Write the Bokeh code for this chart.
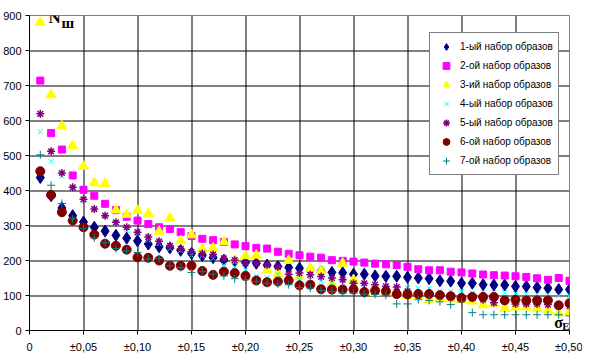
from bokeh.plotting import figure
from bokeh.models import Range1d, FixedTicker, Legend, LegendItem, Label
from bokeh.embed import file_html
from bokeh.resources import INLINE

# ---- data ----
x_vals = [0.01, 0.02, 0.03, 0.04, 0.05, 0.06, 0.07, 0.08, 0.09, 0.10,
          0.11, 0.12, 0.13, 0.14, 0.15, 0.16, 0.17, 0.18, 0.19, 0.20,
          0.21, 0.22, 0.23, 0.24, 0.25, 0.26, 0.27, 0.28, 0.29, 0.30,
          0.31, 0.32, 0.33, 0.34, 0.35, 0.36, 0.37, 0.38, 0.39, 0.40,
          0.41, 0.42, 0.43, 0.44, 0.45, 0.46, 0.47, 0.48, 0.49, 0.50]

set1 = [437, 385, 350, 328, 310, 295, 284, 272, 264, 256,
        247, 239, 236, 229, 220, 214, 208, 201, 198, 195,
        192, 187, 183, 180, 178, 173, 170, 166, 165, 161,
        161, 156, 155, 155, 152, 150, 148, 142, 141, 135,
        135, 131, 130, 130, 126, 126, 123, 121, 117, 117]
set2 = [714, 564, 517, 443, 402, 385, 362, 344, 325, 314,
        304, 295, 290, 281, 270, 262, 258, 253, 246, 241,
        236, 234, 225, 219, 215, 211, 208, 201, 199, 197,
        194, 191, 189, 187, 182, 175, 172, 172, 168, 166,
        163, 160, 158, 157, 155, 153, 149, 145, 150, 142]
set3 = [880, 673, 584, 528, 469, 422, 420, 344, 331, 343,
        333, 283, 321, 256, 273, 233, 235, 253, 201, 213,
        215, 173, 163, 200, 154, 177, 171, 133, 192, 145,
        112, 108, 110, 105, 100, 99, 88, 93, 90, 88,
        84, 73, 76, 63, 67, 67, 63, 58, 50, 52]
set4 = [568, 483, 440, 408, 372, 347, 328, 305, 286, 277,
        258, 248, 234, 229, 215, 214, 206, 187, 182, 173,
        154, 150, 161, 145, 145, 145, 140, 135, 135, 131,
        126, 126, 121, 121, 121, 121, 121, 112, 112, 112,
        108, 110, 108, 108, 106, 103, 103, 103, 100, 100]
set5 = [619, 512, 450, 409, 375, 347, 328, 309, 295, 281,
        267, 255, 242, 233, 225, 220, 217, 206, 201, 192,
        192, 187, 182, 161, 164, 159, 154, 150, 145, 135,
        135, 131, 126, 124, 112, 107, 107, 103, 98, 93,
        93, 88, 79, 84, 76, 76, 76, 74, 70, 70]
set6 = [455, 387, 338, 314, 295, 274, 248, 242, 231, 209,
        208, 200, 185, 185, 185, 170, 159, 168, 164, 156,
        143, 138, 140, 143, 129, 131, 118, 117, 117, 117,
        110, 114, 112, 104, 103, 104, 104, 101, 98, 93,
        96, 96, 96, 86, 88, 86, 86, 86, 72, 78]
set7 = [502, 415, 363, 319, 291, 265, 251, 234, 227, 223,
        204, 206, 185, 180, 166, 168, 161, 156, 148, 145,
        140, 135, 133, 131, 123, 121, 114, 112, 107, 107,
        104, 103, 101, 76, 76, 88, 86, 82, 74, 82,
        51, 45, 45, 45, 45, 45, 45, 45, 45, 42]

series_names = ["1-ый набор образов", "2-ой набор образов", "3-ий набор образов",
                "4-ый набор образов", "5-ый набор образов", "6-ой набор образов",
                "7-ой набор образов"]

x_ticks = [0, 0.05, 0.1, 0.15, 0.2, 0.25, 0.3, 0.35, 0.4, 0.45, 0.5]
x_tick_labels = ["0", "±0,05", "±0,10", "±0,15", "±0,20", "±0,25",
                 "±0,30", "±0,35", "±0,40", "±0,45", "±0,50"]
y_ticks = [0, 100, 200, 300, 400, 500, 600, 700, 800, 900]

# ---- figure ----
FW, FH = 540, 315          # frame size in px
X0, X1, Y0, Y1 = 0, 0.5, 0, 900

p = figure(width=580, height=355, output_backend="svg", toolbar_location=None,
           frame_width=FW, frame_height=FH,
           x_range=Range1d(X0, X1), y_range=Range1d(Y0, Y1),
           min_border_left=27, min_border_right=13, min_border_top=15,
           min_border_bottom=25, background_fill_color="white",
           border_fill_color="white")
p.outline_line_color = "#808080"
p.outline_line_width = 1
p.grid.visible = False

FONT = "Liberation Sans"
for ax in (p.xaxis[0], p.yaxis[0]):
    ax.axis_line_color = "black"
    ax.major_tick_line_color = "black"
    ax.major_tick_out = 4
    ax.major_tick_in = 0
    ax.minor_tick_out = 0
    ax.minor_tick_in = 0
    ax.major_label_text_font = FONT
    ax.major_label_text_font_size = "11px"
    ax.major_label_text_color = "black"
    ax.major_label_standoff = 4
p.xaxis.major_label_standoff = 6

p.xaxis.ticker = FixedTicker(ticks=x_ticks)
p.xaxis.major_label_overrides = {t: l for t, l in zip(x_ticks, x_tick_labels)}
p.yaxis.ticker = FixedTicker(ticks=y_ticks)

# grid lines (black, 1px) drawn as segments nudged half a pixel for crispness
hx = 0.5 * (X1 - X0) / FW
hy = 0.5 * (Y1 - Y0) / FH
gx = [t + hx for t in x_ticks[1:-1]]
gy = [t - hy for t in y_ticks[1:-1]]
p.segment(x0=gx, x1=gx, y0=[Y0] * len(gx), y1=[Y1] * len(gx),
          line_color="black", line_width=1, level="underlay")
p.segment(x0=[X0] * len(gy), x1=[X1] * len(gy), y0=gy, y1=gy,
          line_color="black", line_width=1, level="underlay")

# ---- series ----
r1 = p.scatter(x_vals, set1, marker="diamond", size=12, fill_color="#000080", line_color="#000080")
r2 = p.scatter(x_vals, set2, marker="square", size=7, fill_color="#FF00FF", line_color="#FF00FF")
r3 = p.scatter(x_vals, set3, marker="triangle", size=10, fill_color="#FFFF00", line_color="#FFFF00")
r4 = p.scatter(x_vals, set4, marker="x", size=7, line_color="#00FFFF", line_width=1)
r5 = p.scatter(x_vals, set5, marker="asterisk", size=8, line_color="#800080", line_width=1.5)
r6 = p.scatter(x_vals, set6, marker="circle", size=9, fill_color="#800000", line_color="#800000")
r7 = p.scatter(x_vals, set7, marker="cross", size=8, line_color="#008080", line_width=1)

renderers = [r1, r2, r3, r4, r5, r6, r7]
items = [LegendItem(label=n, renderers=[r]) for n, r in zip(series_names, renderers)]
legend = Legend(items=items, location=(400, 155),
                label_text_font=FONT, label_text_font_size="10px",
                label_text_color="black",
                border_line_color="black", border_line_width=1,
                background_fill_color="white", background_fill_alpha=1,
                padding=5, spacing=2, glyph_width=22, glyph_height=17,
                label_height=17, label_standoff=3, margin=0)
p.add_layout(legend)

# ---- axis titles inside the plot ----
p.add_layout(Label(x=0.0176, y=895, text="N", text_font="Liberation Serif",
                   text_font_style="bold", text_font_size="17px",
                   text_baseline="alphabetic", text_color="black"))
p.add_layout(Label(x=0.0296, y=880, text="ш", text_font="Liberation Serif",
                   text_font_style="bold", text_font_size="15px",
                   text_baseline="alphabetic", text_color="black"))
p.add_layout(Label(x=0.4858, y=24, text="σ", text_font="Liberation Serif",
                   text_font_style="bold", text_font_size="16px",
                   text_baseline="alphabetic", text_color="black"))
p.add_layout(Label(x=0.4932, y=12, text="E", text_font="Liberation Serif",
                   text_font_style="bold", text_font_size="11px",
                   text_baseline="alphabetic", text_color="black"))

open("out.html", "w").write(file_html(p, INLINE))
